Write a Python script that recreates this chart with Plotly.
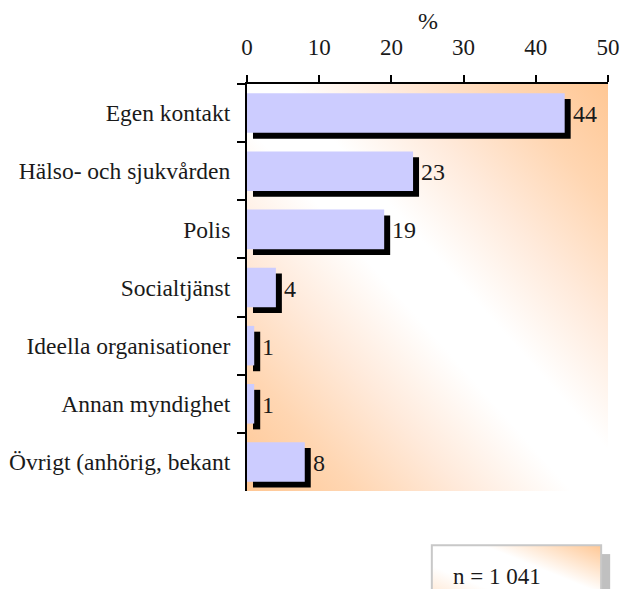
import base64
import plotly.graph_objects as go

categories = ["Egen kontakt", "Hälso- och sjukvården", "Polis", "Socialtjänst",
              "Ideella organisationer", "Annan myndighet", "Övrigt (anhörig, bekant"]
values = [44, 23, 19, 4, 1, 1, 8]
x_ticks = [0, 10, 20, 30, 40, 50]
n_text = "n = 1 041"

FONT = "Liberation Serif"
INK = "#1a1a1a"
BAR_W = 0.68
SHIFT_X = 0.83   # shadow shift, x units (~6 px)
SHIFT_Y = 0.10   # shadow shift, category units (~6 px)


def svg_uri(svg):
    return "data:image/svg+xml;base64," + base64.b64encode(svg.encode()).decode()


bg_svg = """<svg xmlns='http://www.w3.org/2000/svg' width='100' height='100' viewBox='0 0 100 100' preserveAspectRatio='none'>
<defs><linearGradient id='g' x1='0' y1='1' x2='1' y2='0'>
<stop offset='0' stop-color='#ffc794'/><stop offset='0.15' stop-color='#ffd6b2'/>
<stop offset='0.3' stop-color='#ffeadb'/><stop offset='0.45' stop-color='#ffffff'/>
<stop offset='0.55' stop-color='#ffffff'/><stop offset='0.7' stop-color='#ffeadb'/>
<stop offset='0.85' stop-color='#ffd6b2'/><stop offset='1' stop-color='#ffc794'/>
</linearGradient></defs><rect width='100' height='100' fill='url(#g)'/></svg>"""

box_svg = """<svg xmlns='http://www.w3.org/2000/svg' width='100' height='100' viewBox='0 0 100 100' preserveAspectRatio='none'>
<defs><linearGradient id='g' x1='0' y1='1' x2='1' y2='0'>
<stop offset='0' stop-color='#ffd9b8'/><stop offset='0.35' stop-color='#ffffff'/>
<stop offset='0.65' stop-color='#ffffff'/><stop offset='1' stop-color='#ffc794'/>
</linearGradient></defs><rect width='100' height='100' fill='url(#g)'/></svg>"""

fig = go.Figure()

# black shadow bars
fig.add_trace(go.Bar(
    y=categories, x=values, base=SHIFT_X, orientation="h",
    width=BAR_W, offset=-BAR_W / 2 + SHIFT_Y,
    marker=dict(color="black", line=dict(width=0)),
    hoverinfo="skip", showlegend=False,
))
# main bars
fig.add_trace(go.Bar(
    y=categories, x=values, orientation="h",
    width=BAR_W, offset=-BAR_W / 2,
    marker=dict(color="#ccccff", line=dict(width=0)),
    showlegend=False,
))

for c, v in zip(categories, values):
    fig.add_annotation(x=v + SHIFT_X, y=c, text=str(v), showarrow=False,
                       xanchor="left", xshift=0, yshift=-1,
                       font=dict(family=FONT, size=24, color=INK))

# axis unit above the tick labels
fig.add_annotation(xref="paper", yref="paper", x=0.5, y=1, text="%",
                   showarrow=False, xanchor="center", yanchor="middle", yshift=63,
                   font=dict(family=FONT, size=24, color=INK))

fig.add_layout_image(source=svg_uri(bg_svg), xref="paper", yref="paper",
                     x=0, y=1, sizex=1, sizey=1, sizing="stretch",
                     xanchor="left", yanchor="top", layer="below")

# n box
fig.add_shape(type="rect", xref="paper", yref="paper",
              x0=0.981, x1=1.006, y0=-0.3, y1=-0.155,
              fillcolor="#c0c0c0", line=dict(width=0), layer="above")
fig.add_layout_image(source=svg_uri(box_svg), xref="paper", yref="paper",
                     x=0.512, y=-0.133, sizex=0.469, sizey=0.17, sizing="stretch",
                     xanchor="left", yanchor="top", layer="above")
fig.add_shape(type="rect", xref="paper", yref="paper",
              x0=0.512, x1=0.981, y0=-0.3, y1=-0.133,
              line=dict(color="#c8c8c8", width=2), layer="above")
fig.add_annotation(xref="paper", yref="paper", x=0.565, y=-0.211,
                   text=n_text, showarrow=False, xanchor="left", yanchor="middle",
                   font=dict(family=FONT, size=23, color=INK))

fig.update_layout(
    width=622, height=589,
    margin=dict(l=247, r=14, t=84, b=98, autoexpand=False),
    paper_bgcolor="white", plot_bgcolor="rgba(0,0,0,0)",
    barmode="overlay",
    font=dict(family=FONT, size=22, color=INK),
    xaxis=dict(
        side="top", range=[0, 50], tickvals=x_ticks, automargin=False,
        showgrid=False, zeroline=False,
        showline=True, linecolor="black", linewidth=2,
        ticks="outside", ticklen=7, tickwidth=2, tickcolor="black",
        ticklabelstandoff=11,
        tickfont=dict(family=FONT, size=23, color=INK),
    ),
    yaxis=dict(
        type="category", categoryorder="array", categoryarray=categories,
        autorange=False, range=[6.5, -0.5], automargin=False,
        showgrid=False, zeroline=False,
        showline=True, linecolor="black", linewidth=2,
        ticks="outside", ticklen=8, tickwidth=2, tickcolor="black",
        tickson="boundaries", ticklabelstandoff=10,
        tickfont=dict(family=FONT, size=23.5, color=INK),
    ),
)

fig.write_html("out.html", config={"displayModeBar": False},
               post_script="document.body.style.margin='0';")
